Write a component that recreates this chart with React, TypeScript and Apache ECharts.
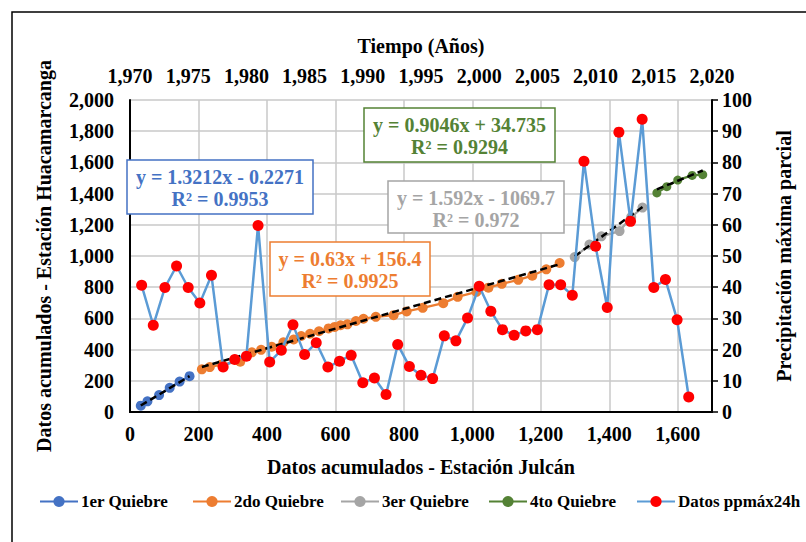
import React, { useEffect, useRef } from "react";
import * as echarts from "echarts";

// ---- Data ----
const years = [
  1971, 1972, 1973, 1974, 1975, 1976, 1977, 1978, 1979, 1980,
  1981, 1982, 1983, 1984, 1985, 1986, 1987, 1988, 1989, 1990,
  1991, 1992, 1993, 1994, 1995, 1996, 1997, 1998, 1999, 2000,
  2001, 2002, 2003, 2004, 2005, 2006, 2007, 2008, 2009, 2010,
  2011, 2012, 2013, 2014, 2015, 2016, 2017, 2018,
];
const ppmax24h = [
  40.6, 27.8, 39.9, 46.8, 39.9, 34.9, 43.8, 14.4, 16.8, 17.9,
  59.8, 16.0, 19.8, 28.0, 18.4, 22.2, 14.4, 16.3, 18.2, 9.4,
  10.9, 5.6, 21.6, 14.6, 11.8, 10.7, 24.4, 22.8, 30.1, 40.3,
  32.3, 26.4, 24.6, 26.0, 26.4, 40.8, 40.8, 37.4, 80.4, 53.1,
  33.5, 89.7, 61.1, 93.8, 39.9, 42.5, 29.6, 4.8,
];

const q1X = [31.5, 51, 85, 116, 145, 174];
const q1Y = [40.6, 68.4, 108.3, 155.1, 195.0, 229.9];

const q2X = [
  210, 233, 268, 322, 356, 383, 414, 448, 478, 500, 526, 552, 580, 598, 615, 635,
  660, 682, 718, 770, 808, 855, 915, 957, 1012, 1047, 1086, 1134, 1175, 1216, 1255,
];
const q2Y = [
  273.7, 288.1, 304.9, 322.8, 382.6, 398.6, 418.4, 446.4, 464.8, 487.0, 501.4,
  517.7, 535.9, 545.3, 556.2, 561.8, 583.4, 598.0, 609.8, 620.5, 644.9, 667.7,
  697.8, 738.1, 770.4, 796.8, 821.4, 847.4, 873.8, 914.6, 955.4,
];

const q3X = [1299, 1342, 1377, 1430, 1464, 1497];
const q3Y = [992.8, 1073.2, 1126.3, 1159.8, 1249.5, 1310.6];

const q4X = [1539, 1568, 1600, 1642, 1673];
const q4Y = [1404.4, 1444.3, 1486.8, 1516.4, 1521.2];

const seriesNames = ["1er Quiebre", "2do Quiebre", "3er Quiebre", "4to Quiebre", "Datos ppmáx24h"];
const trendSlopes = [1.3212, 0.63, 1.592, 0.9046];
const trendIntercepts = [-0.2271, 156.4, -1069.7, 34.735];
const trendLabels = [
  ["y = 1.3212x - 0.2271", "R² = 0.9953"],
  ["y = 0.63x + 156.4", "R² = 0.9925"],
  ["y = 1.592x - 1069.7", "R² = 0.972"],
  ["y = 0.9046x + 34.735", "R² = 0.9294"],
];

const FONT = '"Liberation Serif", "Times New Roman", serif';
const colors = ["#4472C4", "#ED7D31", "#A5A5A5", "#548235"];

const fmt = (v: number) => Math.round(v).toLocaleString("en-US");

export default function App() {
  const ref = useRef<HTMLDivElement>(null);

  useEffect(() => {
    document.body.style.margin = "0";
    const chart = echarts.init(ref.current!, undefined, { renderer: "svg" });

    const qx = [q1X, q2X, q3X, q4X];
    const qy = [q1Y, q2Y, q3Y, q4Y];
    const qSizes = [10, 10, 10, 9];

    const quiebreSeries = qx.map((xs, i) => ({
      name: seriesNames[i],
      type: "line",
      xAxisIndex: 0,
      yAxisIndex: 0,
      data: xs.map((x, j) => [x, qy[i][j]]),
      symbol: "circle",
      symbolSize: qSizes[i],
      lineStyle: { color: colors[i], width: 2.25 },
      itemStyle: { color: colors[i] },
      z: 2,
    }));

    const trendSeries = qx.map((xs, i) => {
      const x0 = Math.min(...xs);
      const x1 = Math.max(...xs);
      return {
        name: "trend" + i,
        type: "line",
        xAxisIndex: 0,
        yAxisIndex: 0,
        data: [
          [x0, trendSlopes[i] * x0 + trendIntercepts[i]],
          [x1, trendSlopes[i] * x1 + trendIntercepts[i]],
        ],
        symbol: "none",
        lineStyle: { color: "#000", width: 2.5, type: [7, 4] },
        silent: true,
        z: 3,
      };
    });

    const redSeries = {
      name: seriesNames[4],
      type: "line",
      xAxisIndex: 1,
      yAxisIndex: 1,
      data: years.map((y, i) => [y, ppmax24h[i]]),
      symbol: "circle",
      symbolSize: 11,
      lineStyle: { color: "#5B9BD5", width: 2.5 },
      itemStyle: { color: "#FF0000" },
      z: 4,
    };

    const boxes = [
      { x: 127, y: 160, w: 186, h: 54 },
      { x: 270, y: 242, w: 160, h: 54 },
      { x: 388, y: 181, w: 176, h: 52 },
      { x: 364, y: 108, w: 191, h: 54 },
    ];
    const boxColors = ["#4472C4", "#ED7D31", "#A5A5A5", "#548235"];

    const graphics: any[] = [
      {
        type: "rect",
        shape: { x: 12, y: 12, width: 810, height: 550 },
        style: { fill: "none", stroke: "#000", lineWidth: 1.5 },
        silent: true,
        z: 0,
      },
    ];
    boxes.forEach((b, i) => {
      graphics.push({
        type: "rect",
        shape: { x: b.x, y: b.y, width: b.w, height: b.h },
        style: { fill: "#fff", stroke: boxColors[i], lineWidth: 1.5 },
        z: 100,
      });
      trendLabels[i].forEach((t, k) => {
        graphics.push({
          type: "text",
          x: b.x + b.w / 2,
          y: b.y + 17 + k * 22,
          style: {
            text: t,
            fill: boxColors[i],
            fontFamily: FONT,
            fontWeight: "bold",
            fontSize: 20,
            align: "center",
            verticalAlign: "middle",
          },
          z: 101,
        });
      });
    });

    const labelStyle = {
      fontFamily: FONT,
      fontWeight: "bold" as const,
      fontSize: 20,
      color: "#000",
    };

    const legendLefts = [39, 192, 340, 488, 636];
    const legends = seriesNames.map((n, i) => ({
      data: [n],
      left: legendLefts[i],
      top: 493,
      itemWidth: 38,
      itemHeight: 14,
      itemGap: 4,
      padding: 0,
      textStyle: { fontFamily: FONT, fontWeight: "bold", fontSize: 17, color: "#000", padding: [0, 0, 0, -2] },
    }));

    chart.setOption({
      animation: false,
      backgroundColor: "#fff",
      grid: { left: 130, right: 94, top: 100, bottom: 130 },
      legend: legends,
      xAxis: [
        {
          type: "value",
          position: "bottom",
          min: 0,
          max: 1700,
          interval: 200,
          axisLine: { show: true, lineStyle: { color: "#000", width: 2 } },
          axisTick: { show: false },
          axisLabel: { ...labelStyle, margin: 12, formatter: fmt, showMaxLabel: false },
          splitLine: { show: true, lineStyle: { color: "#C8C8C8", width: 1.5 } },
          name: "Datos acumulados - Estación Julcán",
          nameLocation: "middle",
          nameGap: 45,
          nameTextStyle: { ...labelStyle },
        },
        {
          type: "value",
          position: "top",
          min: 1970,
          max: 2020,
          interval: 5,
          axisLine: { show: true, lineStyle: { color: "#000", width: 2 } },
          axisTick: { show: false },
          axisLabel: { ...labelStyle, margin: 14, formatter: fmt },
          splitLine: { show: false },
          name: "Tiempo (Años)",
          nameLocation: "middle",
          nameGap: 44,
          nameTextStyle: { ...labelStyle },
        },
      ],
      yAxis: [
        {
          type: "value",
          position: "left",
          min: 0,
          max: 2000,
          interval: 200,
          axisLine: { show: true, lineStyle: { color: "#000", width: 2 } },
          axisTick: { show: false },
          axisLabel: { ...labelStyle, margin: 16, formatter: fmt },
          splitLine: { show: true, lineStyle: { color: "#C8C8C8", width: 1.5 } },
          name: "Datos acumulados - Estación Huacamarcanga",
          nameLocation: "middle",
          nameGap: 76,
          nameTextStyle: { ...labelStyle },
        },
        {
          type: "value",
          position: "right",
          min: 0,
          max: 100,
          interval: 10,
          axisLine: { show: true, lineStyle: { color: "#000", width: 2 } },
          axisTick: { show: true, inside: false, length: 6, lineStyle: { color: "#000", width: 1.5 } },
          axisLabel: { ...labelStyle, margin: 10 },
          splitLine: { show: false },
          name: "Precipitación máxima parcial",
          nameLocation: "middle",
          nameGap: 62,
          nameRotate: 90,
          nameTextStyle: { ...labelStyle },
        },
      ],
      series: [...quiebreSeries, ...trendSeries, redSeries],
      graphic: graphics,
    });

    return () => chart.dispose();
  }, []);

  return <div ref={ref} style={{ width: 806, height: 542 }} />;
}
